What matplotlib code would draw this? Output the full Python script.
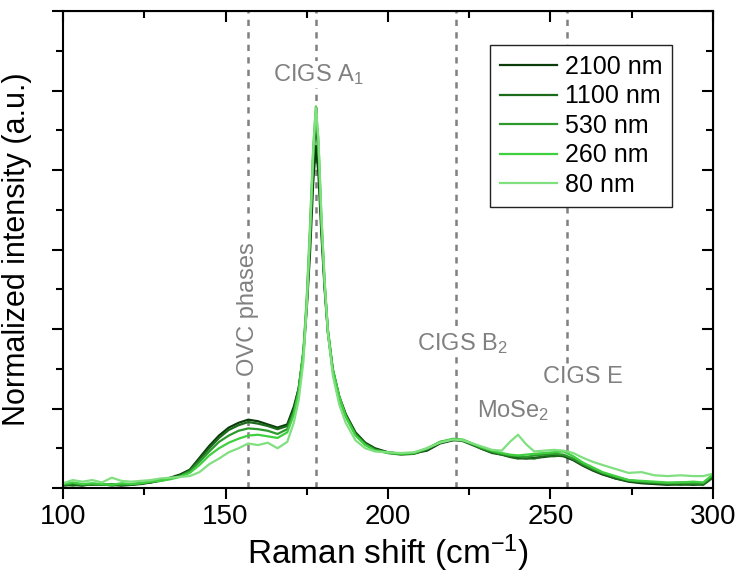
import matplotlib
matplotlib.use("Agg")
import matplotlib.pyplot as plt
from matplotlib.ticker import MultipleLocator

plt.rcParams['font.family'] = ['Liberation Sans', 'DejaVu Sans']
plt.rcParams['mathtext.fontset'] = 'custom'
plt.rcParams['mathtext.rm'] = 'Liberation Sans'
plt.rcParams['mathtext.default'] = 'regular'

# Raman shift grid (cm-1)
shift = [100, 103, 106, 109, 112, 115, 118, 121, 124, 127, 130, 133, 136, 139,
         142, 145, 148, 151, 154, 157, 160, 163, 166, 169, 171, 172.5, 174, 175,
         176, 177, 177.8, 178.6, 179.5, 180.5, 181.5, 183, 185, 187, 190, 193,
         196, 200, 204, 208, 212, 216, 220, 223, 226, 229, 232, 235, 237.5, 240,
         242.5, 245, 248, 251, 254, 257, 260, 263, 266, 270, 274, 278, 282, 286,
         290, 294, 297, 300]

i_2100 = [0.03, 0.04, 0.03, 0.05, 0.04, 0.04, 0.03, 0.04, 0.05, 0.07, 0.10, 0.13, 0.17, 0.23,
          0.38, 0.53, 0.66, 0.76, 0.82, 0.86, 0.84, 0.80, 0.76, 0.80, 1.02, 1.25, 1.70, 2.25,
          2.95, 3.85, 4.30, 3.95, 3.20, 2.50, 1.95, 1.48, 1.15, 0.93, 0.70, 0.57,
          0.50, 0.45, 0.43, 0.44, 0.47, 0.56, 0.60, 0.60, 0.55, 0.49, 0.45, 0.42, 0.40, 0.38,
          0.37, 0.38, 0.39, 0.41, 0.40, 0.35, 0.28, 0.22, 0.17, 0.12, 0.08, 0.06, 0.05, 0.04,
          0.05, 0.04, 0.05, 0.15]

i_1100 = [0.05, 0.03, 0.05, 0.04, 0.05, 0.03, 0.05, 0.04, 0.06, 0.07, 0.09, 0.12, 0.16, 0.22,
          0.36, 0.50, 0.63, 0.73, 0.79, 0.83, 0.81, 0.78, 0.74, 0.78, 0.98, 1.25, 1.72, 2.30,
          3.10, 4.10, 4.62, 4.20, 3.30, 2.55, 1.98, 1.50, 1.15, 0.92, 0.69, 0.56,
          0.49, 0.44, 0.42, 0.43, 0.48, 0.57, 0.61, 0.59, 0.54, 0.49, 0.44, 0.42, 0.39, 0.37,
          0.38, 0.37, 0.40, 0.40, 0.41, 0.36, 0.29, 0.23, 0.18, 0.12, 0.09, 0.07, 0.06, 0.05,
          0.04, 0.05, 0.04, 0.13]

i_530 = [0.04, 0.06, 0.04, 0.05, 0.04, 0.05, 0.04, 0.05, 0.06, 0.08, 0.10, 0.12, 0.15, 0.21,
         0.33, 0.46, 0.58, 0.66, 0.72, 0.75, 0.74, 0.72, 0.68, 0.74, 0.95, 1.22, 1.72, 2.35,
         3.20, 4.20, 4.72, 4.30, 3.35, 2.55, 1.98, 1.48, 1.13, 0.90, 0.67, 0.55,
         0.48, 0.45, 0.43, 0.44, 0.49, 0.58, 0.61, 0.60, 0.55, 0.50, 0.46, 0.43, 0.41, 0.40,
         0.39, 0.41, 0.42, 0.43, 0.42, 0.37, 0.30, 0.24, 0.19, 0.14, 0.10, 0.08, 0.07, 0.06,
         0.07, 0.06, 0.06, 0.16]

i_260 = [0.05, 0.07, 0.05, 0.06, 0.05, 0.04, 0.06, 0.05, 0.06, 0.08, 0.09, 0.11, 0.14, 0.19,
         0.29, 0.41, 0.50, 0.57, 0.62, 0.66, 0.67, 0.65, 0.63, 0.70, 0.92, 1.20, 1.75, 2.40,
         3.30, 4.30, 4.80, 4.35, 3.40, 2.60, 2.00, 1.50, 1.15, 0.90, 0.66, 0.54,
         0.47, 0.44, 0.43, 0.44, 0.50, 0.58, 0.62, 0.61, 0.56, 0.51, 0.47, 0.44, 0.42, 0.41,
         0.42, 0.43, 0.44, 0.45, 0.46, 0.40, 0.32, 0.26, 0.20, 0.15, 0.10, 0.09, 0.08, 0.07,
         0.07, 0.08, 0.07, 0.17]

i_80 = [0.06, 0.10, 0.08, 0.10, 0.07, 0.13, 0.09, 0.08, 0.09, 0.10, 0.12, 0.13, 0.14, 0.15,
        0.20, 0.30, 0.37, 0.45, 0.50, 0.56, 0.54, 0.57, 0.50, 0.58, 0.82, 1.10, 1.60, 2.30,
        3.20, 4.25, 4.78, 4.40, 3.45, 2.60, 1.95, 1.42, 1.05, 0.82, 0.60, 0.50,
        0.46, 0.45, 0.44, 0.45, 0.50, 0.57, 0.61, 0.60, 0.56, 0.52, 0.48, 0.47, 0.58, 0.67,
        0.55, 0.46, 0.47, 0.48, 0.47, 0.44, 0.38, 0.33, 0.29, 0.24, 0.19, 0.20, 0.16, 0.15,
        0.16, 0.15, 0.15, 0.18]

labels = ["2100 nm", "1100 nm", "530 nm", "260 nm", "80 nm"]
colors = ["#0b3d0b", "#1b6b1b", "#2e9a2e", "#3fd03f", "#80e080"]

# mode positions
mode_pos = [157, 177.8, 221, 255]

fig = plt.figure(figsize=(7.37, 5.74), dpi=100)
ax = fig.add_axes([0.0855, 0.1498, 0.8819, 0.831])

for lab, col, y in zip(labels, colors, [i_2100, i_1100, i_530, i_260, i_80]):
    ax.plot(shift, y, color=col, lw=1.6, label=lab)

for p in mode_pos:
    ax.axvline(p, color='#808080', ls=(0, (2.5, 2.5)), lw=1.8, zorder=0)

gray = '#808080'
box = dict(facecolor='white', edgecolor='none', pad=1)
ax.text(178.5, 5.2, "CIGS A$_1$", color=gray, fontsize=17, ha='center', va='center', bbox=box)
ax.text(157, 2.25, "OVC phases", color=gray, fontsize=17, ha='center', va='center',
        rotation=90, bbox=box)
ax.text(223, 1.82, "CIGS B$_2$", color=gray, fontsize=17, ha='center', va='center', bbox=box)
ax.text(260, 1.40, "CIGS E", color=gray, fontsize=17, ha='center', va='center', bbox=box)
ax.text(238.5, 0.98, "MoSe$_2$", color=gray, fontsize=17, ha='center', va='center', bbox=box)

ax.set_xlim(100, 300)
ax.set_ylim(0, 6)
ax.xaxis.set_major_locator(MultipleLocator(50))
ax.xaxis.set_minor_locator(MultipleLocator(25))
ax.yaxis.set_major_locator(MultipleLocator(1))
ax.yaxis.set_minor_locator(MultipleLocator(0.5))
ax.tick_params(which='major', direction='out', length=8, width=1.5, labelsize=20)
ax.tick_params(which='minor', direction='out', length=5, width=1.5)
ax.tick_params(axis='y', labelleft=False)
for s in ax.spines.values():
    s.set_linewidth(1.5)

right = ax.secondary_yaxis('right')
right.yaxis.set_major_locator(MultipleLocator(1))
right.yaxis.set_minor_locator(MultipleLocator(0.5))
right.tick_params(which='major', direction='in', length=8, width=1.5, labelright=False)
right.tick_params(which='minor', direction='in', length=5, width=1.5)
top = ax.secondary_xaxis('top')
top.xaxis.set_major_locator(MultipleLocator(50))
top.xaxis.set_minor_locator(MultipleLocator(25))
top.tick_params(which='major', direction='in', length=8, width=1.5, labeltop=False)
top.tick_params(which='minor', direction='in', length=5, width=1.5)

ax.set_xlabel("Raman shift (cm$^{-1}$)", fontsize=24, labelpad=2)
ax.set_ylabel("Normalized intensity (a.u.)", fontsize=22, labelpad=14)

leg = ax.legend(loc='upper right', bbox_to_anchor=(0.937, 0.929), borderaxespad=0,
                fontsize=18, frameon=True, fancybox=False, framealpha=1,
                handlelength=2.3, handletextpad=0.3, labelspacing=0.22, borderpad=0.4)
leg.get_frame().set_edgecolor('#222222')
leg.get_frame().set_linewidth(1.0)

fig.savefig("out.png", dpi=100)
